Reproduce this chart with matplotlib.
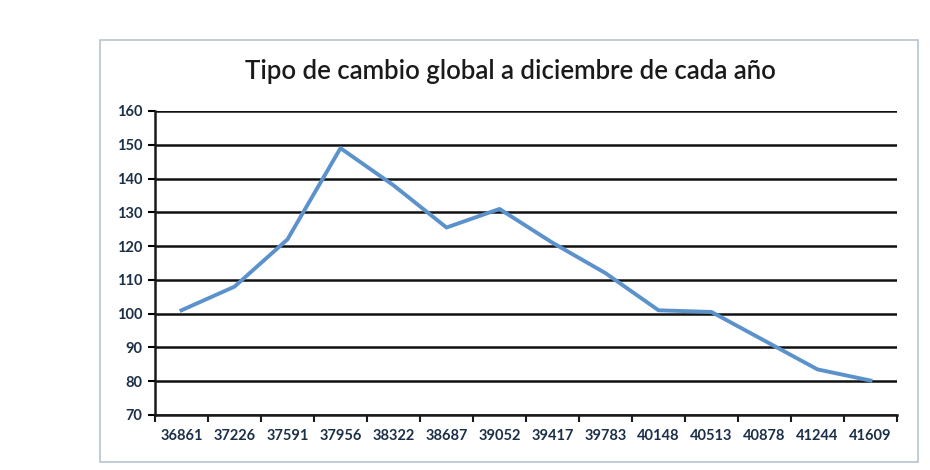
#!/usr/bin/env python3
"""Tipo de cambio global a diciembre de cada año - Excel-style line chart."""
import numpy as np
import matplotlib
matplotlib.use("Agg")
import matplotlib.pyplot as plt
from matplotlib.patches import Rectangle

fechas = ["36861", "37226", "37591", "37956", "38322", "38687", "39052",
          "39417", "39783", "40148", "40513", "40878", "41244", "41609"]
tipo_cambio = [101, 108, 122, 149, 138, 125.5, 131, 121, 112, 101, 100.5, 92, 83.5, 80.2]
y_ticks = list(range(70, 161, 10))

plt.rcParams["font.family"] = ["Lato", "DejaVu Sans"]

fig = plt.figure(figsize=(9.3, 4.7), dpi=100)
fig.patches.append(Rectangle((100 / 930, 8 / 470), 818 / 930, 422 / 470,
                             transform=fig.transFigure, fill=False,
                             ec="#b8c4d0", lw=1.2))
ax = fig.add_axes([155 / 930, 55 / 470, 742 / 930, 304 / 470])

x = np.arange(len(fechas))
ax.plot(x, tipo_cambio, color="#5b92cc", lw=2.8, zorder=3, solid_joinstyle="round")

ax.set_ylim(70, 160)
ax.set_yticks(y_ticks)
ax.set_xlim(-0.5, len(fechas) - 0.5)
ax.set_xticks(x)
ax.set_xticklabels(fechas)
ax.set_xticks(np.arange(len(fechas) + 1) - 0.5, minor=True)
ax.tick_params(axis="x", which="major", length=0, pad=10, labelsize=10.5)
ax.tick_params(axis="x", which="minor", length=5, width=1.5, direction="out", color="#1a1a1a")
ax.tick_params(axis="y", length=5, width=1.5, pad=4, labelsize=10.5)
for lbl in ax.get_xticklabels() + ax.get_yticklabels():
    lbl.set_fontweight("bold")
    lbl.set_color("#1c2f48")

ax.yaxis.grid(True, color="#111111", lw=1.8)
ax.set_axisbelow(True)
for s in ("top", "right"):
    ax.spines[s].set_visible(False)
for s in ("left", "bottom"):
    ax.spines[s].set_color("#1a1a1a")
    ax.spines[s].set_linewidth(1.8)

fig.text(510 / 930, 1 - 72 / 470, "Tipo de cambio global a diciembre de cada año",
         ha="center", va="center", fontsize=18.5, fontweight="semibold", color="#1a1a1a")

fig.savefig("out.png", dpi=100)
